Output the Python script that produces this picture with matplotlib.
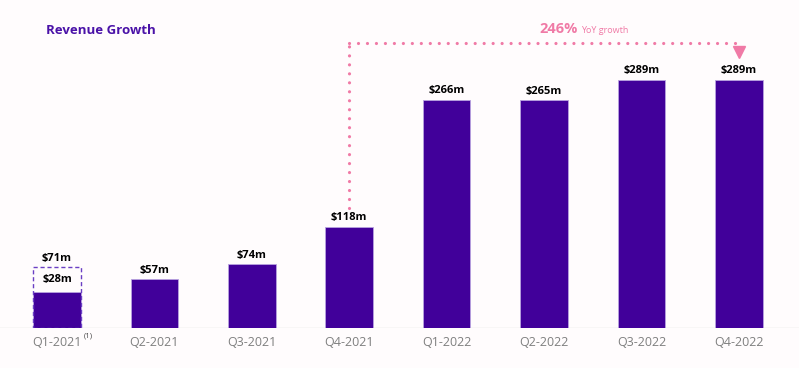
import numpy as np
import matplotlib.pyplot as plt
from matplotlib.patches import Rectangle

quarters = ["Q1-2021", "Q2-2021", "Q3-2021", "Q4-2021",
            "Q1-2022", "Q2-2022", "Q3-2022", "Q4-2022"]
revenue = [42, 57, 74, 118, 266, 265, 289, 289]          # drawn bar heights ($m)
value_labels = ["$28m", "$57m", "$74m", "$118m", "$266m", "$265m", "$289m", "$289m"]
q1_proforma = 71                                         # dashed pro-forma Q1-2021
growth_text = "246%"

purple = "#41009a"
pink = "#f07aa6"
bg = "#fffcfd"

fig = plt.figure(figsize=(7.99, 3.68), dpi=100, facecolor=bg)
ax = fig.add_axes([0, 40 / 368, 1, 328 / 368])
ax.set_facecolor(bg)

x = np.arange(len(quarters))
w = 0.49
ax.bar(x, revenue, width=w, color=purple, edgecolor="#b9a3e0", linewidth=0.6, zorder=3)

# dashed pro-forma box for Q1-2021
ax.add_patch(Rectangle((x[0] - w / 2, 0), w, q1_proforma, fill=False,
                       edgecolor="#6a3fc4", linestyle=(0, (3, 2)), linewidth=1.0, zorder=4))

ax.set_xlim(-0.585, 7.618)
ax.set_ylim(0, 382)
ax.axhline(0, color="#dedede", linewidth=1.0, zorder=2)

lab_font = dict(fontsize=8, fontweight="bold", family="Open Sans", color="black", ha="center")
for i, (v, lab) in enumerate(zip(revenue, value_labels)):
    if i == 0:
        ax.text(x[i], (v + q1_proforma) / 2, lab, va="center", **lab_font)
        ax.text(x[i], q1_proforma + 4, "$71m", va="bottom", **lab_font)
    else:
        ax.text(x[i], v + 4, lab, va="bottom", **lab_font)

for i, q in enumerate(quarters):
    ax.text(x[i], -17, q, ha="center", va="center", fontsize=9,
            family="Open Sans", color="#7f7f7f", clip_on=False)
ax.text(x[0] + 0.27, -9, "(1)", ha="left", va="center", fontsize=5.5,
        family="Open Sans", color="#444444", clip_on=False)

for s in ax.spines.values():
    s.set_visible(False)
ax.set_xticks([])
ax.set_yticks([])

# YoY growth annotation (dotted path with arrow head)
y_top = 332
dots = dict(color=pink, linestyle=(0, (0.01, 2.8)), linewidth=2.3, dash_capstyle="round")
ax.plot([x[3], x[3]], [revenue[3] + 22, y_top], **dots)
ax.plot([x[3], x[7] - 0.02], [y_top, y_top], **dots)
ax.plot(x[7], y_top - 11, marker="v", markersize=8, color=pink)
ax.text(5.35, 348, growth_text, ha="right", va="center", fontsize=10.5,
        fontweight="bold", family="Open Sans", color=pink)
ax.text(5.38, 347, "YoY growth", ha="left", va="center", fontsize=6.5,
        family="Open Sans", color=pink)

fig.text(46 / 799, 1 - 30 / 368, "Revenue Growth", ha="left", va="center",
         fontsize=9.5, fontweight="bold", family="Open Sans", color="#4a12a8")

fig.savefig("out.png", dpi=100, facecolor=bg)
